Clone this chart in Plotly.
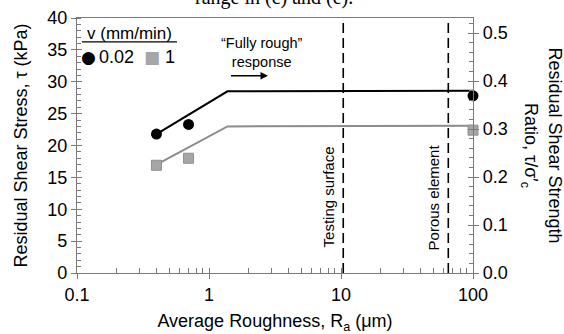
import numpy as np
import plotly.graph_objects as go

# ---- data ----
ra_002 = [0.4, 0.7, 100]
tau_002 = [21.8, 23.3, 27.8]
ra_1 = [0.4, 0.7, 100]
tau_1 = [16.9, 18.0, 22.4]
fit_ra = [0.4, 1.38, 100]
fit_002 = [21.8, 28.5, 28.6]
fit_1 = [17.0, 23.0, 23.1]
ref_lines = [10.4, 65]
ref_labels = ["Testing surface", "Porous element"]
x_ticks = [0.1, 1, 10, 100]
x_ticktext = ["0.1", "1", "10", "100"]
x_minor = [d * m for d in (0.1, 1, 10) for m in range(2, 10)]
y_ticks = [0, 5, 10, 15, 20, 25, 30, 35, 40]
y2_ticks = [0, 0.1, 0.2, 0.3, 0.4, 0.5]
y_range = [0, 40]
y2_range = [0, 0.53125]

FONT = "Liberation Sans, Arial, sans-serif"
AX = "#7a7a7a"
W, H = 564, 334
L, R, T, B = 77, 91, 18, 61

fig = go.Figure()

for xv in ref_lines:
    fig.add_trace(go.Scatter(x=[xv, xv], y=y_range, mode="lines",
                             line=dict(color="black", width=1.6, dash="10px,5px"),
                             showlegend=False, hoverinfo="skip"))

fig.add_trace(go.Scatter(x=fit_ra, y=fit_002, mode="lines",
                         line=dict(color="black", width=2), showlegend=False))
fig.add_trace(go.Scatter(x=fit_ra, y=fit_1, mode="lines",
                         line=dict(color="#8c8c8c", width=2), showlegend=False))
fig.add_trace(go.Scatter(x=ra_002, y=tau_002, mode="markers", name="0.02",
                         marker=dict(symbol="circle", size=11, color="black"),
                         cliponaxis=False, showlegend=False))
fig.add_trace(go.Scatter(x=ra_1, y=tau_1, mode="markers", name="1",
                         marker=dict(symbol="square", size=10, color="#a6a6a6",
                                     line=dict(color="#8f8f8f", width=1)),
                         cliponaxis=False, showlegend=False))

# empty traces so that the secondary / overlay axes get drawn
for xa, ya in (("x", "y2"), ("x2", "y"), ("x", "y3"), ("x", "y4")):
    fig.add_trace(go.Scatter(x=[], y=[], xaxis=xa, yaxis=ya, mode="markers",
                             showlegend=False, hoverinfo="skip"))

tickfont = dict(family=FONT, size=18, color="black")

fig.update_layout(
    width=W, height=H,
    margin=dict(l=L, r=R, t=T, b=B, pad=0),
    paper_bgcolor="white", plot_bgcolor="white",
    font=dict(family=FONT, size=17, color="black"),
    xaxis=dict(type="log", range=[-1, 2], tickvals=x_ticks, ticktext=x_ticktext,
               ticks="outside", ticklen=5, tickcolor=AX, tickwidth=1.2,
               showline=True, linecolor=AX, linewidth=1.2, mirror=True,
               showgrid=False, zeroline=False, tickfont=tickfont, automargin=False,
               minor=dict(tickvals=x_minor, ticks="inside", ticklen=5,
                          tickcolor=AX, tickwidth=1, showgrid=False),
               title=dict(text="Average Roughness, R<sub>a</sub> (μm)",
                          font=dict(family=FONT, size=18), standoff=15)),
    yaxis=dict(range=y_range, tickvals=y_ticks,
               ticks="outside", ticklen=5, tickcolor=AX, tickwidth=1.2,
               showline=True, linecolor=AX, linewidth=1.2, automargin=False,
               showgrid=False, zeroline=False, tickfont=tickfont,
               minor=dict(dtick=1, ticks="inside", ticklen=4,
                          tickcolor=AX, tickwidth=1, showgrid=False),
               title=dict(text="Residual Shear Stress, τ (kPa)",
                          font=dict(family=FONT, size=18), standoff=14)),
    yaxis2=dict(range=y2_range, overlaying="y", side="right", anchor="x",
                tickvals=y2_ticks, tickformat=".1f", automargin=False,
                ticks="outside", ticklen=5, tickcolor=AX, tickwidth=1.2,
                showline=True, linecolor=AX, linewidth=1.2,
                showgrid=False, zeroline=False, tickfont=tickfont,
                minor=dict(dtick=0.02, ticks="inside", ticklen=4,
                           tickcolor=AX, tickwidth=1, showgrid=False)),
    # inner halves of the crossing major ticks
    xaxis2=dict(type="log", range=[-1, 2], overlaying="x", anchor="y",
                side="bottom", automargin=False,
                tickvals=x_ticks, ticks="inside", ticklen=5, tickcolor=AX,
                tickwidth=1.2, showticklabels=False, showgrid=False,
                zeroline=False, showline=False),
    yaxis3=dict(range=y_range, overlaying="y", anchor="x", side="left",
                automargin=False,
                tickvals=y_ticks, ticks="inside", ticklen=5,
                tickcolor=AX, tickwidth=1.2, showticklabels=False,
                showgrid=False, zeroline=False, showline=False),
    yaxis4=dict(range=y2_range, overlaying="y", anchor="x", side="right",
                automargin=False,
                tickvals=y2_ticks, ticks="inside", ticklen=5,
                tickcolor=AX, tickwidth=1.2, showticklabels=False,
                showgrid=False, zeroline=False, showline=False),
)

ann = []
# vertical reference labels
for xv, lab in zip(ref_lines, ref_labels):
    ann.append(dict(x=np.log10(xv), y=11.9, xref="x", yref="y", text=lab,
                    textangle=-90, showarrow=False, xshift=-15,
                    xanchor="center", yanchor="middle",
                    font=dict(family=FONT, size=15, color="black")))
# fully rough response
ann.append(dict(x=np.log10(2.52), y=34.6, xref="x", yref="y",
                text="“Fully rough”<br>response", showarrow=False,
                xanchor="center", yanchor="middle",
                font=dict(family=FONT, size=14.5, color="black")))
ann.append(dict(x=np.log10(2.8), y=30.95, xref="x", yref="y", text=" ",
                showarrow=True, ax=-39, ay=0, arrowhead=2, arrowsize=1,
                arrowwidth=1.5, arrowcolor="black",
                font=dict(family=FONT, size=4)))
# right axis title
ann.append(dict(x=1, y=0.5, xref="paper", yref="paper", xshift=69,
                xanchor="center", yanchor="middle",
                text="Residual Shear Strength<br>Ratio, τ/σ′<sub>c</sub>",
                textangle=90, showarrow=False,
                font=dict(family=FONT, size=18, color="black")))
# legend
LG = dict(xref="paper", yref="paper", showarrow=False, yanchor="middle")
ann.append(dict(x=0.1326, y=0.941, text="v (mm/min)", xanchor="center",
                font=dict(family=FONT, size=17), **LG))
ann.append(dict(x=0.0303, y=0.847, text="●", xanchor="center",
                font=dict(family="DejaVu Sans", size=17, color="black"), **LG))
ann.append(dict(x=0.0505, y=0.847, text="0.02", xanchor="left",
                font=dict(family=FONT, size=18), **LG))
ann.append(dict(x=0.1894, y=0.847, text="■", xanchor="center",
                font=dict(family="DejaVu Sans", size=17, color="#a6a6a6"), **LG))
ann.append(dict(x=0.217, y=0.847, text="1", xanchor="left",
                font=dict(family=FONT, size=18), **LG))
# clipped caption from the page above
ann.append(dict(x=0.293, y=1.0275, xref="paper", yref="paper", xanchor="left",
                yanchor="bottom", text="range in (c) and (e).", showarrow=False,
                font=dict(family="Liberation Serif, Times New Roman, serif", size=20)))
fig.update_layout(annotations=ann)

fig.add_shape(type="line", xref="paper", yref="paper", x0=0.0126, x1=0.2525,
              y0=0.906, y1=0.906, line=dict(color="black", width=1.2))

fig.write_html("out.html")
